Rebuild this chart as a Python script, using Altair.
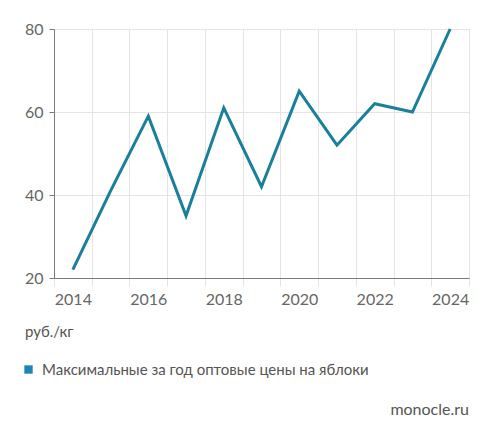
import altair as alt
import pandas as pd

years = [2014, 2015, 2016, 2017, 2018, 2019, 2020, 2021, 2022, 2023, 2024]
prices = [22, 41, 59, 35, 61, 42, 65, 52, 62, 60, 80]
series_name = "Максимальные за год оптовые цены на яблоки"
unit_label = "руб./кг"
source_label = "monocle.ru"

FONT = "Lato"
LINE_COLOR = "#1a7f9b"
LEGEND_COLOR = "#1a86b5"

df = pd.DataFrame({"year": years, "price": prices, "series": [series_name] * len(years)})

W, H = 415, 249

line = alt.Chart(df).mark_line(strokeWidth=3, color=LINE_COLOR).encode(
    x=alt.X(
        "year:O",
        scale=alt.Scale(paddingInner=0, paddingOuter=0),
        axis=alt.Axis(
            title=None,
            tickBand="extent",
            labelExpr="toNumber(datum.value) % 2 == 0 ? datum.label : ''",
            labelAngle=0,
            labelFont=FONT,
            labelFontSize=16,
            labelColor="#666666",
            labelPadding=5,
            tickColor="#e4e4e4",
            tickSize=8,
            domainColor="#7a7a7a",
            gridColor="#e4e4e4",
            grid=True,
        ),
    ),
    y=alt.Y(
        "price:Q",
        scale=alt.Scale(domain=[20, 80], nice=False, zero=False),
        axis=alt.Axis(
            title=None,
            values=[20, 40, 60, 80],
            labelFont=FONT,
            labelFontSize=16,
            labelColor="#666666",
            labelPadding=6,
            tickColor="#7a7a7a",
            tickSize=5,
            domainColor="#7a7a7a",
            gridColor="#e4e4e4",
        ),
    ),
)

legend_pts = alt.Chart(pd.DataFrame({"series": [series_name]})).mark_square(size=0, opacity=1).encode(
    color=alt.Color(
        "series:N",
        scale=alt.Scale(range=[LEGEND_COLOR]),
        legend=alt.Legend(
            title=unit_label,
            orient="none",
            legendX=-29,
            legendY=296,
            titleFont=FONT,
            titleFontSize=15,
            titleFontWeight="normal",
            titleColor="#555555",
            titlePadding=22,
            labelFont=FONT,
            labelFontSize=15,
            labelColor="#555555",
            labelLimit=0,
            symbolType="square",
            symbolSize=70,
            symbolStrokeWidth=0,
            symbolOpacity=1,
            symbolFillColor=LEGEND_COLOR,
            symbolOffset=-4,
            labelOffset=6,
        ),
    ),
)

source = alt.Chart(pd.DataFrame({"src": [source_label]})).mark_text(
    align="right", baseline="middle", font=FONT, fontSize=16, color="#555555"
).encode(x=alt.value(W), y=alt.value(381), text="src:N")

chart = (
    alt.layer(line, legend_pts, source)
    .properties(
        width=W,
        height=H,
        autosize=alt.AutoSizeParams(type="none"),
        padding={"left": 46, "top": 21, "right": 15, "bottom": 145},
    )
    .configure_view(stroke="#e4e4e4")
    .configure(background="white")
)

chart.save("out.html", embed_options={"renderer": "svg", "actions": False})
